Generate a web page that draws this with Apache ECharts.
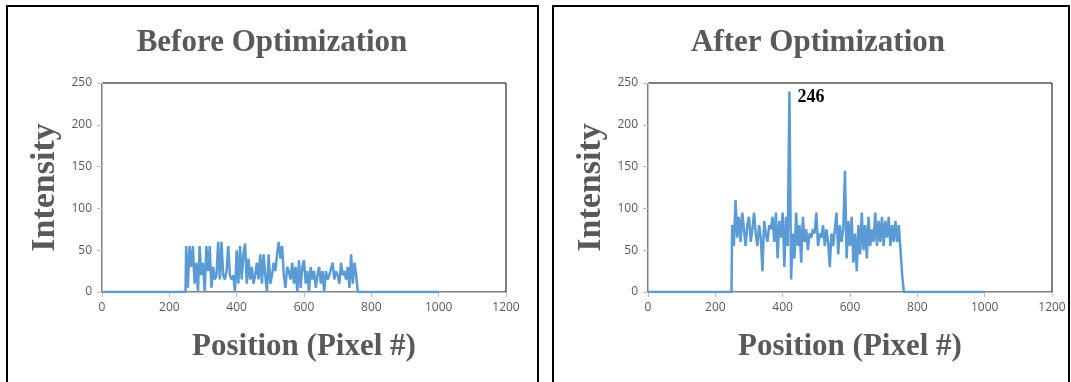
<!DOCTYPE html>
<html>
<head>
<meta charset="utf-8">
<title>Before / After Optimization</title>
<script src="https://cdn.jsdelivr.net/npm/echarts@6/dist/echarts.min.js"></script>
<style>
    *{margin:0;padding:0;}
    body{background:#fff;}
    #main{width:1071px;height:382px;}
</style>
</head>
<body>
<div id="main"></div>
<script type="text/javascript">
// signal start position, step 5
var start = 250;
var step = 5;
var beforeVals = [55,5,55,30,55,10,35,0,55,20,35,0,55,25,55,5,30,15,20,60,
    15,60,20,15,25,55,20,15,20,0,50,10,55,15,45,58,10,40,15,30,
    10,20,35,15,45,10,45,20,0,45,10,20,35,25,45,60,40,55,20,5,
    30,25,15,35,10,30,0,38,5,30,38,10,25,0,30,15,25,5,20,30,
    10,25,0,25,15,20,20,35,15,25,20,10,35,20,25,15,30,5,45,10,
    35,20];
var afterVals = [80,55,110,65,90,60,95,75,55,80,90,60,75,95,70,55,80,65,25,85,
    70,60,80,75,90,60,95,40,85,65,95,30,90,55,240,15,70,40,95,55,
    80,35,90,60,75,50,70,65,75,70,95,55,70,65,80,55,75,60,30,70,
    55,75,95,45,80,60,75,145,40,85,55,90,35,70,25,80,45,95,50,80,
    40,90,55,75,60,95,55,85,60,90,55,85,65,90,55,80,60,85,60,80,
    50,20];
var peakLabel = '246';

function buildSeries(vals) {
    var d = [[0, 0], [start - 2, 0]];
    for (var i = 0; i < vals.length; i++) {
        d.push([start + i * step, vals[i]]);
    }
    d.push([start + vals.length * step, 0]);
    d.push([1000, 0]);
    return d;
}

function peakPoint(vals) {
    var peak = Math.max.apply(null, vals);
    var idx = vals.indexOf(peak);
    return {
        symbol: 'circle', symbolSize: 0,
        label: {show: true, position: 'right', distance: 8, formatter: peakLabel,
            fontFamily: 'Liberation Serif', fontWeight: 'bold', fontSize: 18, color: '#000', offset: [0, 6]},
        data: [{coord: [start + idx * step, peak]}]
    };
}

var gridLefts = [102, 648];
var titles = ['Before Optimization', 'After Optimization'];
var myChart = echarts.init(document.getElementById('main'));
var option = {
    animation: false,
    title: gridLefts.map(function (l, i) {
        return {text: titles[i], left: l + 165, top: 22, textAlign: 'center',
            textStyle: {fontFamily: 'Liberation Serif', fontWeight: 'bold', fontSize: 31, color: '#595959'}};
    }),
    graphic: [
        {type: 'rect', shape: {x: 7, y: 6, width: 531, height: 390}, style: {fill: 'none', stroke: '#000', lineWidth: 2}},
        {type: 'rect', shape: {x: 553, y: 6, width: 516, height: 390}, style: {fill: 'none', stroke: '#000', lineWidth: 2}}
    ],
    grid: gridLefts.map(function (l) {
        return {left: l, top: 83, width: 404, height: 209, show: true, borderColor: '#000', borderWidth: 1};
    }),
    xAxis: gridLefts.map(function (l, i) {
        return {type: 'value', gridIndex: i, min: 0, max: 1200, interval: 200,
            name: 'Position (Pixel #)', nameLocation: 'middle', nameGap: 39,
            nameTextStyle: {fontFamily: 'Liberation Serif', fontWeight: 'bold', fontSize: 31, color: '#595959'},
            axisLine: {lineStyle: {color: '#bfbfbf', width: 1}},
            axisTick: {show: true, inside: false, length: 5, lineStyle: {color: '#bfbfbf'}},
            axisLabel: {color: '#595959', fontSize: 12, margin: 10, fontFamily: 'Open Sans',
                formatter: function (v) { return String(v); }},
            splitLine: {show: false}};
    }),
    yAxis: gridLefts.map(function (l, i) {
        return {type: 'value', gridIndex: i, min: 0, max: 250, interval: 50,
            name: 'Intensity', nameLocation: 'middle', nameGap: 40, nameRotate: 90,
            nameTextStyle: {fontFamily: 'Liberation Serif', fontWeight: 'bold', fontSize: 34, color: '#595959'},
            axisLine: {show: true, lineStyle: {color: '#bfbfbf', width: 1}},
            axisTick: {show: true, inside: false, length: 5, lineStyle: {color: '#bfbfbf'}},
            axisLabel: {color: '#595959', fontSize: 12, margin: 10, fontFamily: 'Open Sans'},
            splitLine: {show: false}};
    }),
    series: [
        {type: 'line', xAxisIndex: 0, yAxisIndex: 0, data: buildSeries(beforeVals),
            showSymbol: false, lineStyle: {color: '#5b9bd5', width: 2.5}},
        {type: 'line', xAxisIndex: 1, yAxisIndex: 1, data: buildSeries(afterVals),
            showSymbol: false, lineStyle: {color: '#5b9bd5', width: 2.5},
            markPoint: peakPoint(afterVals)}
    ]
};
myChart.setOption(option);
</script>
</body>
</html>
